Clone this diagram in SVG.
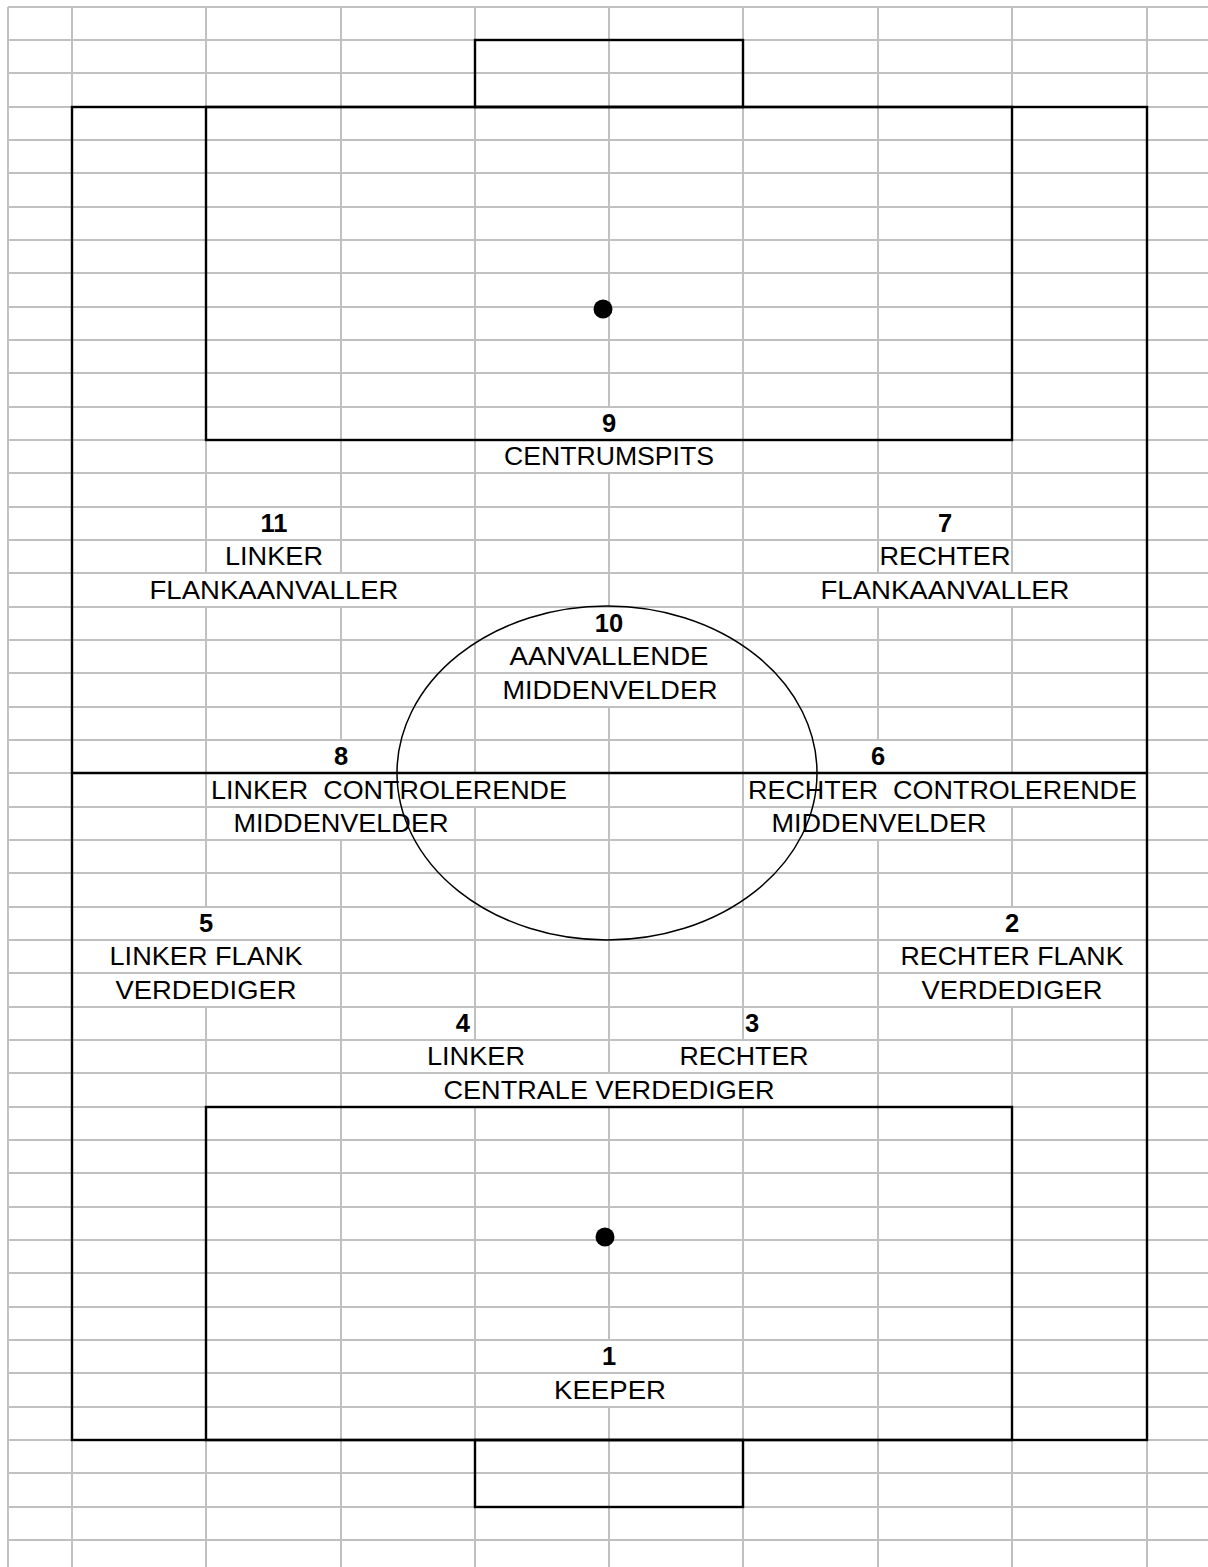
<svg xmlns="http://www.w3.org/2000/svg" width="1208" height="1567" viewBox="0 0 1208 1567">
<style>
.grid{stroke:#c0c0c0;stroke-width:2;fill:none}
.line{stroke:#000;stroke-width:2.4;fill:none}
.circle{stroke:#000;stroke-width:1.5;fill:none}
.spot{fill:#000}
text{font-family:"Liberation Sans",Arial,sans-serif;font-size:25.5px;fill:#000}
.num{font-weight:bold;text-anchor:middle}
.lbl{text-anchor:middle}
.pre{white-space:pre}
</style>
<rect x="0" y="0" width="1208" height="1567" fill="#fff"/>
<g id="grid">
<path class="grid" d="M8 7H1208M8 40H1208M8 73H1208M8 107H1208M8 140H1208M8 173H1208M8 207H1208M8 240H1208M8 273H1208M8 307H1208M8 340H1208M8 373H1208M8 407H1208M8 440H1208M8 473H1208M8 507H1208M8 540H1208M8 573H1208M8 607H1208M8 640H1208M8 673H1208M8 707H1208M8 740H1208M8 773H1208M8 807H1208M8 840H1208M8 873H1208M8 907H1208M8 940H1208M8 973H1208M8 1007H1208M8 1040H1208M8 1073H1208M8 1107H1208M8 1140H1208M8 1173H1208M8 1207H1208M8 1240H1208M8 1273H1208M8 1307H1208M8 1340H1208M8 1373H1208M8 1407H1208M8 1440H1208M8 1473H1208M8 1507H1208M8 1540H1208"/>
<path class="grid" d="M8 7V1567M72 7V1567M206 7V573M206 607V907M206 1007V1567M341 7V573M341 607V740M341 840V1567M475 7V773M475 807V1040M475 1107V1567M609 7V407M609 473V607M609 707V1073M609 1107V1340M609 1407V1567M743 7V1040M743 1107V1567M878 7V573M878 607V740M878 840V1567M1012 7V573M1012 607V773M1012 807V907M1012 1007V1567M1147 7V1567"/>
</g>
<g id="pitch">
<rect class="line" x="72" y="107" width="1075" height="1333"/>
<line class="line" x1="72" y1="773" x2="1147" y2="773"/>
<ellipse class="circle" cx="607" cy="773" rx="210" ry="167"/>
</g>
<g id="goal-top"><rect class="line" x="475" y="40" width="268" height="67"/></g>
<g id="goal-bottom"><rect class="line" x="475" y="1440" width="268" height="67"/></g>
<g id="box-top"><rect class="line" x="206" y="107" width="806" height="333"/><circle class="spot" cx="603" cy="309" r="9.5"/></g>
<g id="box-bottom"><rect class="line" x="206" y="1107" width="806" height="333"/><circle class="spot" cx="605" cy="1237" r="9.5"/></g>
<g id="p9"><text class="num" x="609" y="432">9</text><text class="lbl" x="609" y="465" textLength="210" lengthAdjust="spacingAndGlyphs">CENTRUMSPITS</text></g>
<g id="p11"><text class="num" x="274" y="532">11</text><text class="lbl" x="274" y="565" textLength="98" lengthAdjust="spacingAndGlyphs">LINKER</text><text class="lbl" x="274" y="599" textLength="249" lengthAdjust="spacingAndGlyphs">FLANKAANVALLER</text></g>
<g id="p7"><text class="num" x="945" y="532">7</text><text class="lbl" x="945" y="565" textLength="131" lengthAdjust="spacingAndGlyphs">RECHTER</text><text class="lbl" x="945" y="599" textLength="249" lengthAdjust="spacingAndGlyphs">FLANKAANVALLER</text></g>
<g id="p10"><text class="num" x="609" y="632">10</text><text class="lbl" x="609" y="665" textLength="199" lengthAdjust="spacingAndGlyphs">AANVALLENDE</text><text class="lbl" x="610" y="699" textLength="215" lengthAdjust="spacingAndGlyphs">MIDDENVELDER</text></g>
<g id="p8"><text class="num" x="341" y="765">8</text><text class="pre" x="211" y="799" textLength="356" lengthAdjust="spacingAndGlyphs">LINKER  CONTROLERENDE</text><text class="lbl" x="341" y="832" textLength="215" lengthAdjust="spacingAndGlyphs">MIDDENVELDER</text></g>
<g id="p6"><text class="num" x="878" y="765">6</text><text class="pre" x="748" y="799" textLength="389" lengthAdjust="spacingAndGlyphs">RECHTER  CONTROLERENDE</text><text class="lbl" x="879" y="832" textLength="215" lengthAdjust="spacingAndGlyphs">MIDDENVELDER</text></g>
<g id="p5"><text class="num" x="206" y="932">5</text><text class="lbl" x="206" y="965" textLength="193" lengthAdjust="spacingAndGlyphs">LINKER FLANK</text><text class="lbl" x="206" y="999" textLength="181" lengthAdjust="spacingAndGlyphs">VERDEDIGER</text></g>
<g id="p2"><text class="num" x="1012" y="932">2</text><text class="lbl" x="1012" y="965" textLength="223" lengthAdjust="spacingAndGlyphs">RECHTER FLANK</text><text class="lbl" x="1012" y="999" textLength="181" lengthAdjust="spacingAndGlyphs">VERDEDIGER</text></g>
<g id="p4"><text class="num" x="470" y="1032" style="text-anchor:end">4</text><text class="lbl" x="476" y="1065" textLength="98" lengthAdjust="spacingAndGlyphs">LINKER</text></g>
<g id="p3"><text class="num" x="745" y="1032" style="text-anchor:start">3</text><text class="lbl" x="744" y="1065" textLength="129" lengthAdjust="spacingAndGlyphs">RECHTER</text></g>
<g id="centrale"><text class="lbl" x="609" y="1099" textLength="331" lengthAdjust="spacingAndGlyphs">CENTRALE VERDEDIGER</text></g>
<g id="p1"><text class="num" x="609" y="1365">1</text><text class="lbl" x="610" y="1399" textLength="112" lengthAdjust="spacingAndGlyphs">KEEPER</text></g>
</svg>
